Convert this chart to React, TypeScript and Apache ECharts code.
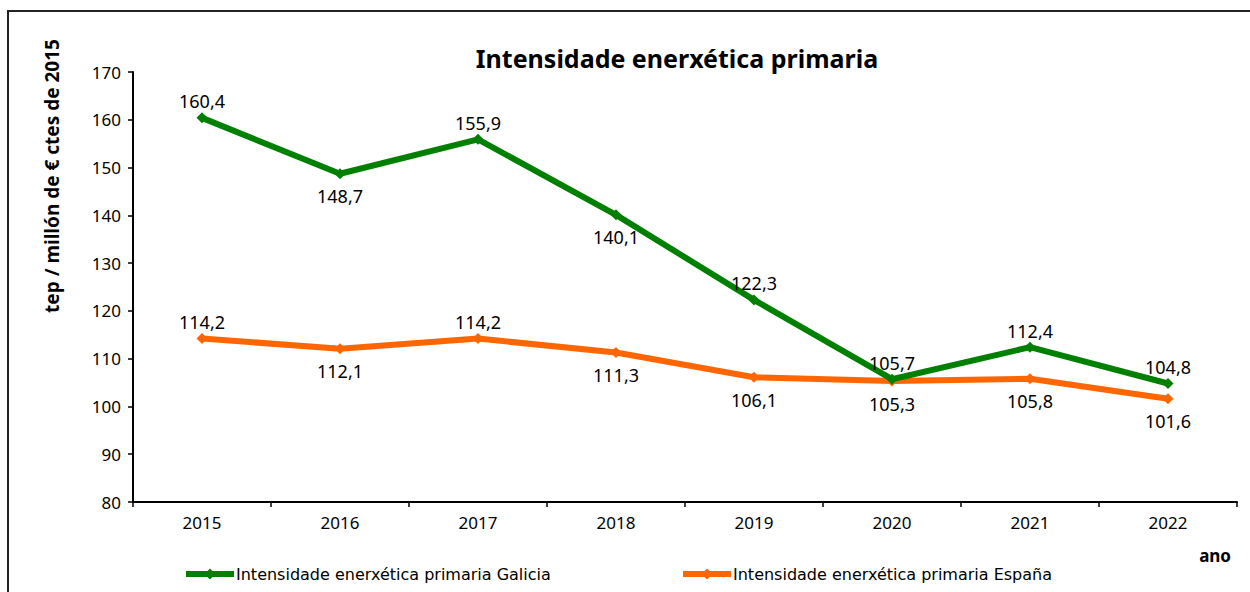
import React, { useEffect, useRef } from "react";
import * as echarts from "echarts";

const years = ["2015", "2016", "2017", "2018", "2019", "2020", "2021", "2022"];
const galicia = [160.4, 148.7, 155.9, 140.1, 122.3, 105.7, 112.4, 104.8];
const espana = [114.2, 112.1, 114.2, 111.3, 106.1, 105.3, 105.8, 101.6];
const galiciaLabelPos = ["top", "bottom", "top", "bottom", "top", "top", "top", "top"];
const espanaLabelPos = ["top", "bottom", "top", "bottom", "bottom", "bottom", "bottom", "bottom"];
const yTicks = { min: 80, max: 170, interval: 10 };

const FONT = "'Noto Sans', sans-serif";
const LEGEND_FONT = "'DejaVu Sans', sans-serif";

function fmt(v: number) {
  return v.toFixed(1).replace(".", ",");
}

function makeData(vals: number[], pos: string[]) {
  return vals.map((v, i) => ({
    value: v,
    label: {
      position: pos[i],
      distance: pos[i] === "top" ? 2 : 8,
    },
  }));
}

export default function App() {
  const ref = useRef<HTMLDivElement>(null);
  useEffect(() => {
    if (!ref.current) return;
    const chart = echarts.init(ref.current, null, { renderer: "svg" });
    const labelStyle = {
      show: true,
      fontFamily: FONT,
      fontSize: 18,
      color: "#000",
      formatter: (p: any) => fmt(p.value),
    };
    const legendCommon = {
      top: 566,
      padding: 0,
      itemWidth: 48,
      itemHeight: 14,
      itemGap: 0,
      lineStyle: { width: 6 },
      textStyle: { fontSize: 16, color: "#000", fontFamily: LEGEND_FONT, padding: [0, 0, 0, -3] },
    };
    chart.setOption({
      animation: false,
      backgroundColor: "#fff",
      textStyle: { fontFamily: FONT },
      grid: { left: 133, right: 13, top: 72, bottom: 90 },
      xAxis: {
        type: "category",
        data: years,
        boundaryGap: true,
        axisLine: { lineStyle: { color: "#000", width: 2 } },
        axisTick: { show: true, length: 5, lineStyle: { color: "#000", width: 1.5 } },
        axisLabel: { color: "#000", fontSize: 17, margin: 12, fontFamily: FONT },
        splitLine: { show: false },
      },
      yAxis: {
        type: "value",
        min: yTicks.min,
        max: yTicks.max,
        interval: yTicks.interval,
        axisLine: { show: true, lineStyle: { color: "#000", width: 2 } },
        axisTick: { show: true, length: 5, lineStyle: { color: "#000", width: 1.5 } },
        axisLabel: { color: "#000", fontSize: 17, margin: 12, fontFamily: FONT },
        splitLine: { show: false },
      },
      legend: [
        { ...legendCommon, left: 183, data: ["Intensidade enerxética primaria Galicia"] },
        { ...legendCommon, left: 680, data: ["Intensidade enerxética primaria España"] },
      ],
      series: [
        {
          name: "Intensidade enerxética primaria Galicia",
          type: "line",
          data: makeData(galicia, galiciaLabelPos),
          color: "#008000",
          lineStyle: { width: 6, color: "#008000" },
          symbol: "diamond",
          symbolSize: 11,
          itemStyle: { color: "#008000" },
          label: labelStyle,
          z: 3,
        },
        {
          name: "Intensidade enerxética primaria España",
          type: "line",
          data: makeData(espana, espanaLabelPos),
          color: "#FF6600",
          lineStyle: { width: 6, color: "#FF6600" },
          symbol: "diamond",
          symbolSize: 11,
          itemStyle: { color: "#FF6600" },
          label: labelStyle,
          z: 2,
        },
      ],
      graphic: [
        {
          type: "rect",
          shape: { x: 8, y: 11, width: 1400, height: 800 },
          style: { fill: "none", stroke: "#222", lineWidth: 2 },
          silent: true,
        },
        {
          type: "text",
          x: 677,
          y: 58,
          style: {
            text: "Intensidade enerxética primaria",
            fontFamily: FONT,
            fontSize: 25,
            fontWeight: "bold",
            fill: "#000",
            align: "center",
            verticalAlign: "middle",
          },
        },
        {
          type: "text",
          x: 52,
          y: 176,
          rotation: Math.PI / 2,
          style: {
            text: "tep / millón de € ctes de 2015",
            fontFamily: FONT,
            fontSize: 19,
            fontWeight: "bold",
            fill: "#000",
            align: "center",
            verticalAlign: "middle",
          },
        },
        {
          type: "text",
          x: 1231,
          y: 555,
          style: {
            text: "ano",
            fontFamily: FONT,
            fontSize: 17,
            fontWeight: "bold",
            fill: "#000",
            align: "right",
            verticalAlign: "middle",
          },
        },
      ],
    });
    return () => chart.dispose();
  }, []);
  return (
    <div
      ref={ref}
      style={{ position: "fixed", left: 0, top: 0, width: 1250, height: 592 }}
    />
  );
}
